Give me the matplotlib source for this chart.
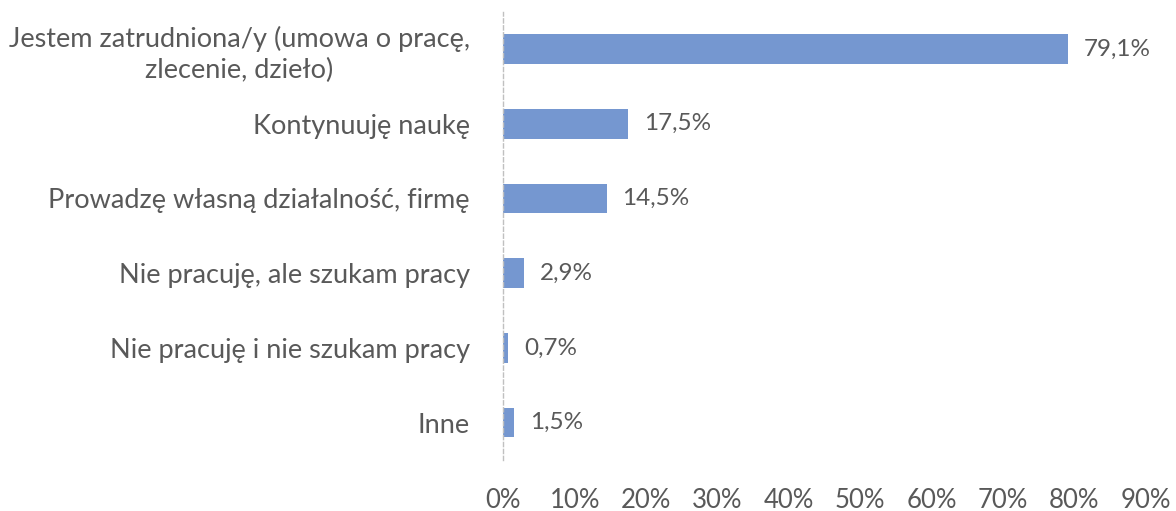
import matplotlib.pyplot as plt
from matplotlib.ticker import FuncFormatter

categories = [
    'Jestem zatrudniona/y (umowa o pracę,\nzlecenie, dzieło)',
    'Kontynuuję naukę',
    'Prowadzę własną działalność, firmę',
    'Nie pracuję, ale szukam pracy',
    'Nie pracuję i nie szukam pracy',
    'Inne',
]
values = [79.1, 17.5, 14.5, 2.9, 0.7, 1.5]
value_labels = ['79,1%', '17,5%', '14,5%', '2,9%', '0,7%', '1,5%']
x_ticks = [0, 10, 20, 30, 40, 50, 60, 70, 80, 90]

text_color = '#595959'
bar_color = '#7597d0'

plt.rcParams['font.family'] = ['Lato', 'DejaVu Sans']

fig = plt.figure(figsize=(11.76, 5.11), dpi=100)
ax = fig.add_axes([0.428, 0.10, 0.546, 0.877])

pos = list(range(len(categories)))
ax.barh(pos, values, height=0.4, color=bar_color)
for p, v, lab in zip(pos, values, value_labels):
    ax.text(v + 2.2, p, lab, va='center', ha='left', fontsize=17.5, color=text_color)

ax.set_xlim(0, 90)
ax.set_ylim(len(categories) - 0.5, -0.5)
ax.set_xticks(x_ticks)
ax.xaxis.set_major_formatter(FuncFormatter(lambda x, _: f'{int(x)}%'))
ax.set_yticks(pos)
ax.set_yticklabels(categories, multialignment='center', linespacing=1.3)
ax.tick_params(axis='x', length=0, pad=20, labelsize=18.5, colors=text_color)
ax.tick_params(axis='y', length=0, pad=24, labelsize=19.5, colors=text_color)

for side in ['top', 'right', 'bottom']:
    ax.spines[side].set_visible(False)
ax.spines['left'].set_color('#c0c0c0')
ax.spines['left'].set_linestyle((0, (3, 2)))
ax.spines['left'].set_linewidth(1)

fig.savefig('out.png', dpi=100)
